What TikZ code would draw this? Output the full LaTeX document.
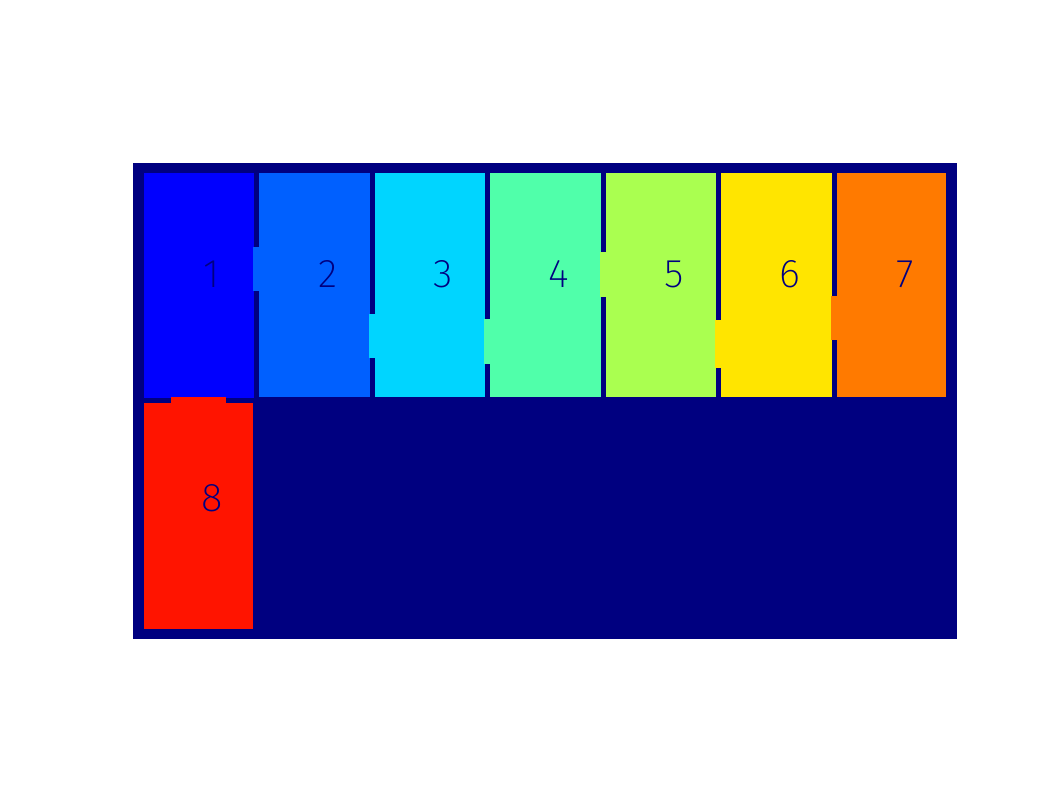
\documentclass[tikz,border=0pt]{standalone}
\usepackage{fontspec}
\newfontfamily\roomfont{Fira Sans ExtraLight}
\definecolor{wallnavy}{RGB}{0,0,128}
\definecolor{roomone}{RGB}{0,0,255}
\definecolor{roomtwo}{RGB}{0,96,255}
\definecolor{roomthree}{RGB}{0,213,255}
\definecolor{roomfour}{RGB}{80,255,170}
\definecolor{roomfive}{RGB}{170,255,80}
\definecolor{roomsix}{RGB}{255,229,0}
\definecolor{roomseven}{RGB}{255,122,0}
\definecolor{roomeight}{RGB}{255,20,0}
\begin{document}
\begin{tikzpicture}[x=1pt,y=-1pt,every node/.style={text=wallnavy,inner sep=0pt,outer sep=0pt,font=\roomfont\fontsize{40}{40}\selectfont}]
\fill[white] (0,0) rectangle (1062,796);
\useasboundingbox (0,0) rectangle (1062,796);
% walls
\fill[wallnavy] (133,163) rectangle (957,639);
% rooms
\fill[roomone] (144,173) rectangle (254,398);
\fill[roomtwo] (259,173) rectangle (370,397);
\fill[roomthree] (375,173) rectangle (485,397);
\fill[roomfour] (490,173) rectangle (601,397);
\fill[roomfive] (606,173) rectangle (716,397);
\fill[roomsix] (721,173) rectangle (832,397);
\fill[roomseven] (837,173) rectangle (946,397);
\fill[roomeight] (144,403) rectangle (253,629);
% doors
\fill[roomtwo] (253,247) rectangle (260,291);
\fill[roomthree] (369,314) rectangle (376,358);
\fill[roomfour] (484,319) rectangle (491,364);
\fill[roomfive] (600,252) rectangle (607,297);
\fill[roomsix] (715,320) rectangle (722,368);
\fill[roomseven] (831,296) rectangle (838,340);
\fill[roomeight] (171,397) rectangle (226,404);
% labels
\node (r1) at (212,274) {1};
\node (r2) at (328,274) {2};
\node (r3) at (443,274) {3};
\node (r4) at (559,274) {4};
\node (r5) at (674,274) {5};
\node (r6) at (790,274) {6};
\node (r7) at (905,274) {7};
\node (r8) at (212,498) {8};
\end{tikzpicture}
\end{document}
